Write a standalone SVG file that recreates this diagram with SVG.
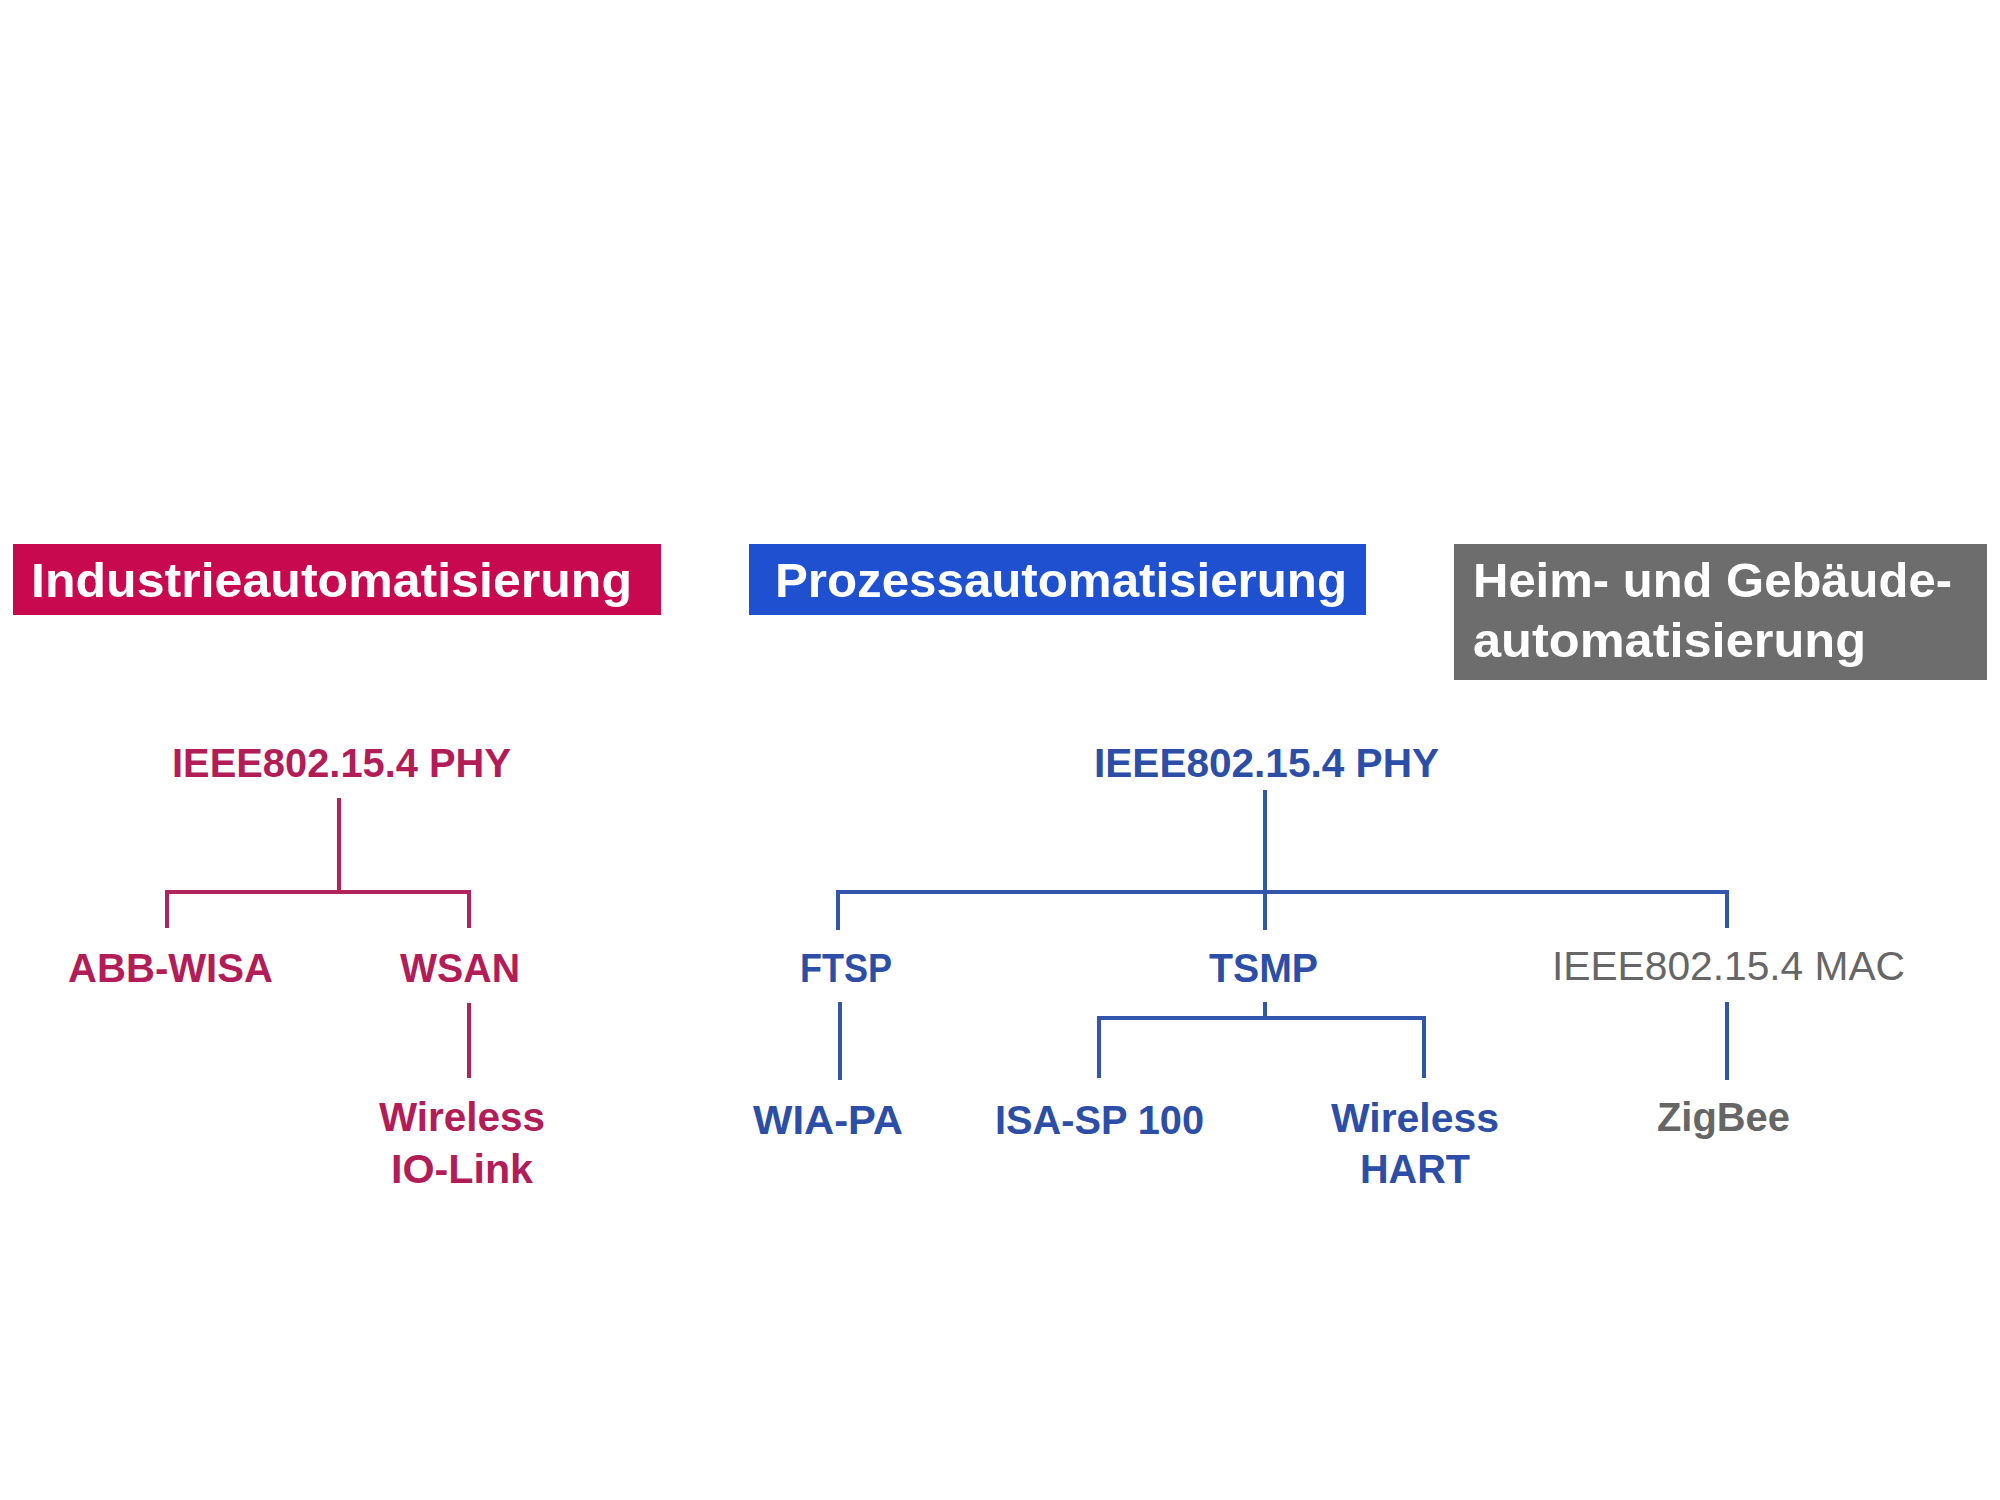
<svg xmlns="http://www.w3.org/2000/svg" width="2000" height="1500" viewBox="0 0 2000 1500">
<style>
  .title { font-family: "Liberation Sans", Arial, sans-serif; font-weight: bold; font-size: 48px; fill: #ffffff; }
  .lbl { font-family: "Liberation Sans", Arial, sans-serif; font-weight: bold; font-size: 41px; }
  .reg { font-family: "Liberation Sans", Arial, sans-serif; font-weight: normal; font-size: 41px; }
  .red { fill: #b21c57; }
  .blue { fill: #2c4ea6; }
  .gray { fill: #666666; }
  .lred { stroke: #b0245b; stroke-width: 4; fill: none; }
  .lblue { stroke: #3356ad; stroke-width: 4; fill: none; }
</style>
<rect width="2000" height="1500" fill="#ffffff"/>

<g id="header-industrie">
  <rect x="13" y="544" width="648" height="71" fill="#c8094f"/>
  <text class="title" x="31" y="597" textLength="601" lengthAdjust="spacingAndGlyphs">Industrieautomatisierung</text>
</g>
<g id="header-prozess">
  <rect x="749" y="544" width="617" height="71" fill="#1e50d0"/>
  <text class="title" x="775" y="597" textLength="572" lengthAdjust="spacingAndGlyphs">Prozessautomatisierung</text>
</g>
<g id="header-heim">
  <rect x="1454" y="544" width="533" height="136" fill="#6d6d6d"/>
  <text class="title" x="1473" y="597" textLength="479" lengthAdjust="spacingAndGlyphs">Heim- und Gebäude-</text>
  <text class="title" x="1473" y="657" textLength="393" lengthAdjust="spacingAndGlyphs">automatisierung</text>
</g>

<g id="connectors">
  <path class="lred" d="M339 798 V892 M167 928 V892 H469 V928 M469 1003 V1078"/>
  <path class="lblue" d="M1265 790 V930 M838 930 V892 H1727 V928 M840 1002 V1080 M1265 1002 V1018 M1099 1078 V1018 H1424 V1078 M1727 1002 V1080"/>
</g>

<g id="n-ind-phy"><text class="lbl red" x="172" y="777" textLength="339" lengthAdjust="spacingAndGlyphs">IEEE802.15.4 PHY</text></g>
<g id="n-abb-wisa"><text class="lbl red" x="68" y="982" textLength="205" lengthAdjust="spacingAndGlyphs">ABB-WISA</text></g>
<g id="n-wsan"><text class="lbl red" x="400" y="982" textLength="120" lengthAdjust="spacingAndGlyphs">WSAN</text></g>
<g id="n-wireless-iolink">
  <text class="lbl red" x="379" y="1131" textLength="166" lengthAdjust="spacingAndGlyphs">Wireless</text>
  <text class="lbl red" x="391" y="1183" textLength="142" lengthAdjust="spacingAndGlyphs">IO-Link</text>
</g>

<g id="n-proz-phy"><text class="lbl blue" x="1094" y="777" textLength="345" lengthAdjust="spacingAndGlyphs">IEEE802.15.4 PHY</text></g>
<g id="n-ftsp"><text class="lbl blue" x="800" y="982" textLength="92" lengthAdjust="spacingAndGlyphs">FTSP</text></g>
<g id="n-tsmp"><text class="lbl blue" x="1209" y="982" textLength="109" lengthAdjust="spacingAndGlyphs">TSMP</text></g>
<g id="n-mac"><text class="reg gray" x="1552" y="980" textLength="353" lengthAdjust="spacingAndGlyphs">IEEE802.15.4 MAC</text></g>
<g id="n-wia-pa"><text class="lbl blue" x="753" y="1134" textLength="150" lengthAdjust="spacingAndGlyphs">WIA-PA</text></g>
<g id="n-isa"><text class="lbl blue" x="995" y="1134" textLength="209" lengthAdjust="spacingAndGlyphs">ISA-SP 100</text></g>
<g id="n-wireless-hart">
  <text class="lbl blue" x="1331" y="1132" textLength="168" lengthAdjust="spacingAndGlyphs">Wireless</text>
  <text class="lbl blue" x="1360" y="1183" textLength="110" lengthAdjust="spacingAndGlyphs">HART</text>
</g>
<g id="n-zigbee"><text class="lbl gray" x="1657" y="1131" textLength="133" lengthAdjust="spacingAndGlyphs">ZigBee</text></g>
</svg>
